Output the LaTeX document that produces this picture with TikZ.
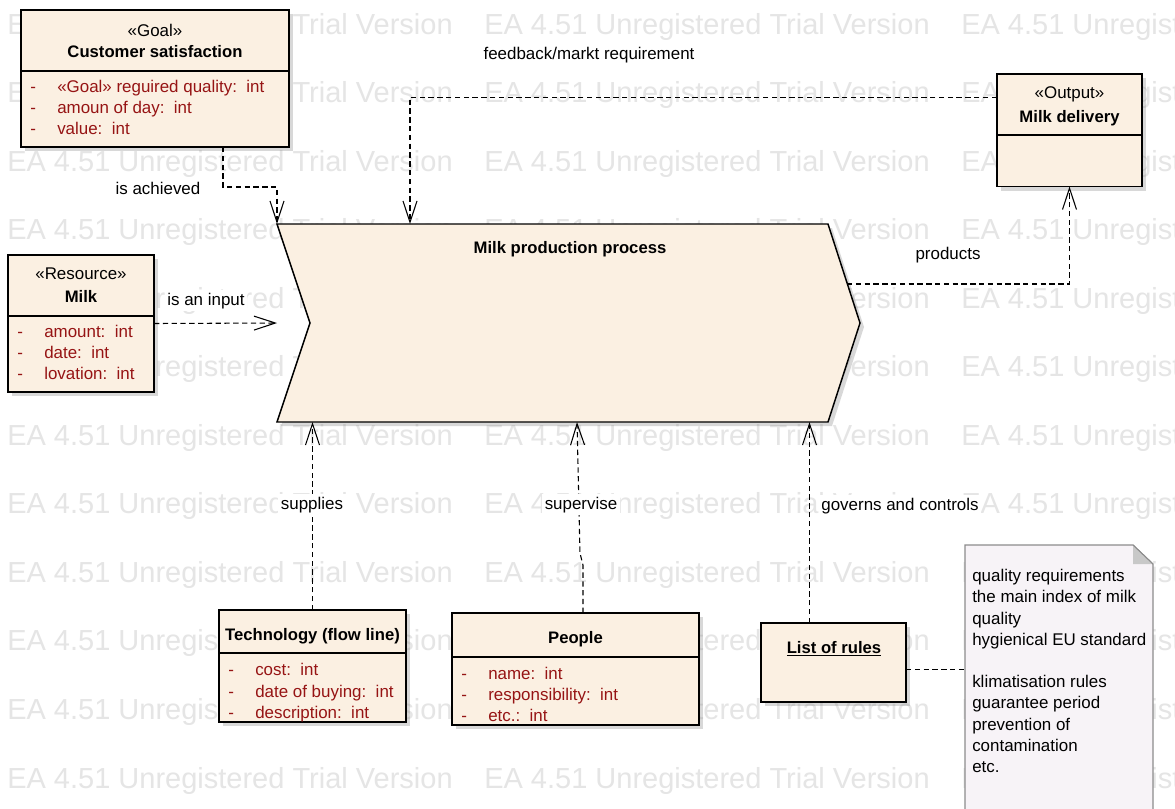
\documentclass[tikz,border=0pt]{standalone}
\usepackage{fontspec}
\setmainfont{Liberation Sans}
\usetikzlibrary{arrows.meta,shadows}
\definecolor{boxfill}{RGB}{251,240,226}
\definecolor{attr}{RGB}{150,20,20}
\definecolor{wm}{RGB}{229,229,229}
\definecolor{notefill}{RGB}{247,243,247}
\definecolor{noteline}{RGB}{140,140,140}
\definecolor{foldc}{RGB}{200,200,200}
\begin{document}
\begin{tikzpicture}[x=0.75pt,y=-0.75pt,
  txt/.style={inner sep=0pt, font=\fontsize{12.7}{15}\selectfont},
  ttl/.style={txt, font=\fontsize{12.5}{15}\selectfont\bfseries, anchor=base},
  ster/.style={txt, anchor=base},
  att/.style={txt, anchor=base west, text=attr},
  wmark/.style={inner sep=0pt, anchor=base west, text=wm, font=\fontsize{21.75}{26}\selectfont},
  sz/.style 2 args={minimum width=#1*0.75pt, minimum height=#2*0.75pt},
  cls/.style={draw=black, line width=1.1pt, fill=boxfill, inner sep=0pt, outer sep=0pt,
    drop shadow={shadow xshift=3pt, shadow yshift=-3pt, opacity=0.3}},
  frame/.style={inner sep=0pt, outer sep=0pt},
  div/.style={line width=0.9pt},
  dep/.style={draw, line width=0.8pt, dash pattern=on 4pt off 2.6pt,
    -{Straight Barb[length=16pt,width=10.5pt]}},
  link/.style={draw, line width=0.8pt, dash pattern=on 4pt off 2.6pt},
  lbl/.style={txt, fill=white, inner sep=2pt, anchor=base},
]
\useasboundingbox (0,0) rectangle (1175,808);
\clip (0,0) rectangle (1175,808);
\fill[white] (0,0) rectangle (1175,808);

% watermark
\foreach \i in {0,...,11}{
  \foreach \c [count=\j] in {7,484,961}{
    \node[wmark] (wm\i-\j) at (\c,{34+68.55*\i}) {EA 4.51 Unregistered Trial Version};
  }
}

% process
\node[frame, sz={583}{198}] (proc) at (568.5,323) {};
\draw[line width=1.1pt, fill=boxfill, drop shadow={shadow xshift=3pt, shadow yshift=-3pt, opacity=0.3}]
  (proc.north west) -- ([xshift=-24pt]proc.north east) -- (proc.east)
  -- ([xshift=-24pt]proc.south east) -- (proc.south west) -- ([xshift=24.75pt]proc.west) -- cycle;
\node[ttl] (procT) at (570,253) {Milk production process};

% goal
\node[cls, sz={268}{137}] (goal) at (155,78.5) {};
\draw[div] (21,71) -- (289,71);
\node[ster] (goalS) at (155,36) {«Goal»};
\node[ttl] (goalT) at (155,57) {Customer satisfaction};
\node[att] (goalD1) at (30,92) {-};
\node[att] (goalD2) at (30,113) {-};
\node[att] (goalD3) at (30,134) {-};
\node[att] (goalA1) at (57,92) {«Goal» reguired quality:\ \ int};
\node[att] (goalA2) at (57,113) {amoun of day:\ \ int};
\node[att] (goalA3) at (57,134) {value:\ \ int};

% milk
\node[cls, sz={146}{137}] (milk) at (81,323.5) {};
\draw[div] (8,316) -- (154,316);
\node[ster] (milkS) at (81,279) {«Resource»};
\node[ttl] (milkT) at (81,302) {Milk};
\node[att] (milkD1) at (17,337) {-};
\node[att] (milkD2) at (17,358) {-};
\node[att] (milkD3) at (17,379) {-};
\node[att] (milkA1) at (44,337) {amount:\ \ int};
\node[att] (milkA2) at (44,358) {date:\ \ int};
\node[att] (milkA3) at (44,379) {lovation:\ \ int};

% delivery
\node[cls, sz={145}{112.5}] (deliv) at (1069.5,130.25) {};
\draw[div] (997,135) -- (1142,135);
\node[ster] (delivS) at (1069.5,98) {«Output»};
\node[ttl] (delivT) at (1069.5,122) {Milk delivery};

% technology
\node[cls, sz={187}{112}] (tech) at (312.5,666) {};
\draw[div] (219,653) -- (406,653);
\node[ttl] (techT) at (312.5,640) {Technology (flow line)};
\node[att] (techD1) at (228,675) {-};
\node[att] (techD2) at (228,697) {-};
\node[att] (techD3) at (228,718) {-};
\node[att] (techA1) at (255,675) {cost:\ \ int};
\node[att] (techA2) at (255,697) {date of buying:\ \ int};
\node[att] (techA3) at (255,718) {description:\ \ int};

% people
\node[cls, sz={247}{112}] (people) at (575.5,669) {};
\draw[div] (452,657) -- (699,657);
\node[ttl] (peopleT) at (575.5,643) {People};
\node[att] (peopleD1) at (461,679) {-};
\node[att] (peopleD2) at (461,700) {-};
\node[att] (peopleD3) at (461,721) {-};
\node[att] (peopleA1) at (488,679) {name:\ \ int};
\node[att] (peopleA2) at (488,700) {responsibility:\ \ int};
\node[att] (peopleA3) at (488,721) {etc.:\ \ int};

% rules
\node[cls, sz={145}{79}] (rules) at (833.5,662.5) {};
\node[ttl] (rulesT) at (834,653) {\underline{List of rules}};

% note
\node[frame, sz={188}{290}] (note) at (1059,690) {};
\draw[draw=noteline, fill=notefill, line width=0.8pt]
  (note.south west) -- (note.north west) -- ([xshift=-15pt]note.north east)
  -- ([yshift=-14.25pt]note.north east) -- (note.south east);
\fill[foldc] ([xshift=-15pt]note.north east) -- ([xshift=-15pt,yshift=-14.25pt]note.north east)
  -- ([yshift=-14.25pt]note.north east) -- cycle;
\draw[draw=noteline, line width=0.8pt] ([xshift=-15pt]note.north east) -- ([yshift=-14.25pt]note.north east);
\foreach \t/\yy [count=\k] in {quality requirements/581.7, the main index of milk/602.9, quality/624.1,
  hygienical EU standard/645.3, klimatisation rules/687.7, guarantee period/708.9,
  prevention of/730.1, contamination/751.3, etc./772.5}{
  \node[txt, anchor=base west] (noteL\k) at (972,\yy) {\t};
}

% connectors
\draw[dep] ([xshift=51pt]goal.south) -- ++(0,40) -| (proc.north west);
\node[lbl] (lach) at (158,194) {is achieved};

\draw[dep] ([yshift=24.9pt]deliv.west) -| ([xshift=99.75pt]proc.north west);
\node[lbl] (lfb) at (589,59) {feedback/markt requirement};

\draw[dep] (milk.east) -- (proc.west);
\node[lbl] (lin) at (206,305) {is an input};

\coordinate (pout) at (847,284);
\draw[dep] (pout) -| (deliv.south);
\node[lbl] (lprod) at (948,259) {products};

\draw[dep] (tech.north) -- (tech.north |- proc.south);
\node[lbl] (lsup) at (312,509) {supplies};

\draw[dep] ([xshift=5.6pt]people.north) -- ++(0,-48) -- ++(-3,-12) -- ([xshift=6.4pt]proc.south);
\node[lbl] (lsv) at (581,509) {supervise};

\draw[dep] ([xshift=-18pt]rules.north) -- ([xshift=-18pt]rules.north |- proc.south);
\node[lbl] (lgov) at (900,510) {governs and controls};

\draw[link] ([yshift=-4.9pt]rules.east) -- ([yshift=-4.9pt]rules.east -| note.west);
\end{tikzpicture}
\end{document}
